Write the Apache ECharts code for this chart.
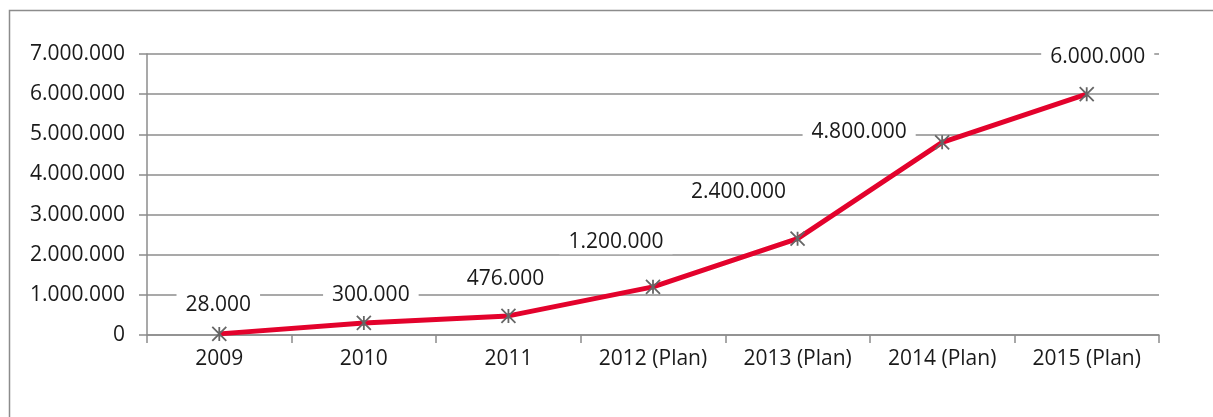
<!DOCTYPE html>
<html>
<head>
<meta charset="utf-8">
<script src="https://cdn.jsdelivr.net/npm/echarts@6/dist/echarts.min.js"></script>
<style>
html,body{margin:0;padding:0;background:#fff;}
#chart{width:1213px;height:417px;}
</style>
</head>
<body>
<div id="chart"></div>
<script>
const categories = ['2009', '2010', '2011', '2012 (Plan)', '2013 (Plan)', '2014 (Plan)', '2015 (Plan)'];
const values = [28000, 300000, 476000, 1200000, 2400000, 4800000, 6000000];
const yTicks = { min: 0, max: 7000000, interval: 1000000 };
// label placement (layout only, in px relative to the marker)
const labelOffsets = [[-1, -29], [7, -28], [-3, -37], [-37, -45], [-59, -47], [-83, -10], [11, -37]];

function fmt(v) {
  return String(Math.round(v)).replace(/\B(?=(\d{3})+(?!\d))/g, '.');
}

const FONT = '"Open Sans", sans-serif';
const FS = 21;
const chart = echarts.init(document.getElementById('chart'), null, { renderer: 'canvas' });

chart.setOption({
  animation: false,
  backgroundColor: '#fff',
  textStyle: { fontFamily: FONT },
  graphic: [{
    type: 'rect',
    shape: { x: 9.5, y: 10.5, width: 1300, height: 500 },
    style: { fill: 'none', stroke: '#8c8c8c', lineWidth: 1.5 },
    z: 0
  }],
  grid: { left: 147, right: 54, top: 54, bottom: 82, containLabel: false },
  xAxis: {
    type: 'category',
    data: categories,
    boundaryGap: true,
    axisLine: { lineStyle: { color: '#8c8c8c', width: 1.5 } },
    axisTick: { show: true, length: 8, alignWithLabel: false, lineStyle: { color: '#8c8c8c', width: 1.5 } },
    axisLabel: { color: '#1a1a1a', fontSize: FS, fontFamily: FONT, margin: 14, interval: 0 },
    splitLine: { show: false }
  },
  yAxis: {
    type: 'value',
    min: yTicks.min,
    max: yTicks.max,
    interval: yTicks.interval,
    axisLine: { show: true, lineStyle: { color: '#8c8c8c', width: 1.5 } },
    axisTick: { show: true, length: 8, lineStyle: { color: '#8c8c8c', width: 1.5 } },
    axisLabel: { color: '#1a1a1a', fontSize: FS, fontFamily: FONT, margin: 22, formatter: fmt },
    splitLine: { show: true, lineStyle: { color: '#8c8c8c', width: 1.5 } }
  },
  series: [{
    type: 'line',
    data: values,
    lineStyle: { color: '#e3022c', width: 5 },
    itemStyle: { color: 'rgba(0,0,0,0)', borderColor: '#666666', borderWidth: 1.8 },
    symbol: 'path://M0 0L10 10M10 0L0 10M5 0L5 10',
    symbolSize: 14,
    showAllSymbol: true,
    z: 3,
    label: {
      show: true,
      position: 'inside',
      align: 'center',
      verticalAlign: 'middle',
      formatter: p => fmt(p.value),
      color: '#1a1a1a',
      fontSize: FS,
      fontFamily: FONT,
      backgroundColor: '#fff',
      padding: [2, 9, 2, 9]
    },
    labelLayout: function (params) {
      const o = labelOffsets[params.dataIndex];
      return { dx: o[0], dy: o[1], hideOverlap: false };
    }
  }]
});
</script>
</body>
</html>
